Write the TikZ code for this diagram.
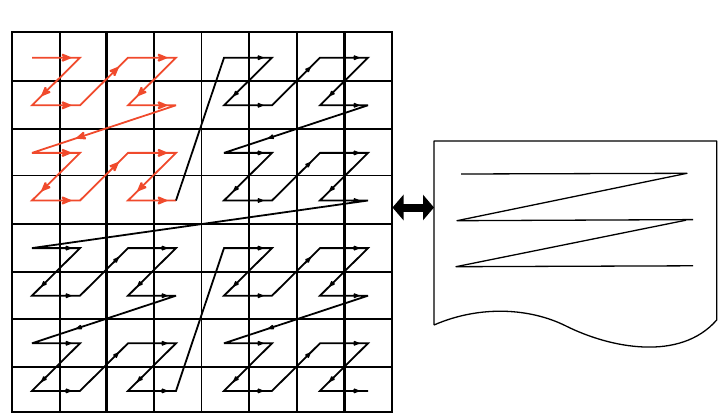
\documentclass[tikz,border=0pt]{standalone}
\usetikzlibrary{arrows.meta, decorations.markings}
\definecolor{zred}{HTML}{F04A2C}
\definecolor{zink}{HTML}{000000}

\begin{document}
\begin{tikzpicture}[
    x=1pt, y=-1pt,
    cellline/.style={line width=#1, color=zink, line cap=rect},
    hop/.style={line width=1.8pt, color=#1, line join=miter, miter limit=3},
    tipred/.style={postaction={decorate, decoration={markings,
        mark=at position #1 with {\arrow{Stealth[length=12pt, width=10pt, inset=3pt]}}}}},
    tipblack/.style={postaction={decorate, decoration={markings,
        mark=at position #1 with {\arrow{Stealth[length=8pt, width=6.5pt, inset=2pt]}}}}},
    page/.style={line width=1.3pt, color=zink, line join=round},
    bothway/.style={{Triangle[length=11pt, width=25pt]}-{Triangle[length=11pt, width=25pt]},
                    line width=8pt, color=zink},
]
\useasboundingbox (0,0) rectangle (723,417);

% =============================================================== the grid
\foreach \gx/\w in {11.7/2.1, 60/2.1, 106.5/2.1, 154/2.1, 201.7/1.1,
                    249/2.1, 297/2.1, 344.5/2.1, 391.7/2.1}
    \draw[cellline=\w pt] (\gx, 31.7) -- (\gx, 411.7);
\foreach \gy/\w in {31.7/2.1, 81/2.1, 129/1.1, 175.5/1.1, 224/2.1,
                    272/2.1, 319/1.1, 367/2.1, 411.7/2.1}
    \draw[cellline=\w pt] (11.7, \gy) -- (391.7, \gy);

% the scan points, in z order
\foreach \n in {0,...,63}{
    \pgfmathtruncatemacro{\ci}{mod(\n,2)+2*mod(int(\n/4),2)+4*mod(int(\n/16),2)}
    \pgfmathtruncatemacro{\rj}{mod(int(\n/2),2)+2*mod(int(\n/8),2)+4*mod(int(\n/32),2)}
    \coordinate (p\n) at ({32+48*\ci}, {57.7+47.6*\rj});
}

\draw[hop=zred] (p0) \foreach \n in {1,...,15}{ -- (p\n) };
\draw[hop=zink] (p15) \foreach \n in {16,...,63}{ -- (p\n) };

% arrow tips on every hop but the three big jumps
\foreach \n in {0,...,62}{
    \pgfmathtruncatemacro{\m}{\n+1}
    \pgfmathtruncatemacro{\lo}{mod(\n,16)}
    \pgfmathtruncatemacro{\odd}{mod(\n,2)}
    \ifnum\lo=7 \def\tippos{0.70}\else
      \ifnum\odd=0 \def\tippos{0.84}\else\def\tippos{0.82}\fi
    \fi
    \ifnum\n<15
      \path[hop=zred, tipred=\tippos] (p\n) -- (p\m);
    \else\ifnum\lo=15
    \else
      \path[hop=zink, tipblack=\tippos] (p\n) -- (p\m);
    \fi\fi
}

% ============================================================== the sheet
\coordinate (gridE)  at (392.5, 207.5);
\coordinate (sheetW) at (434.0, 207.5);
\draw[bothway] (gridE) -- (sheetW);

\draw[page] (434,325) -- (434,141) -- (716.7,141) -- (716.7,320)
    .. controls (680,362) and (610,348) .. (566,326)
    .. controls (530,308) and (480,305) .. (434,325);

\coordinate (z1) at (461,174);
\coordinate (z2) at (687,173.3);
\coordinate (z3) at (457,220.7);
\coordinate (z4) at (693,219.6);
\coordinate (z5) at (686,220.2);
\coordinate (z6) at (456,266.7);
\coordinate (z7) at (693,265.8);
\draw[page] (z1) -- (z2) -- (z3) -- (z4);
\draw[page] (z5) -- (z6) -- (z7);

\end{tikzpicture}
\end{document}
